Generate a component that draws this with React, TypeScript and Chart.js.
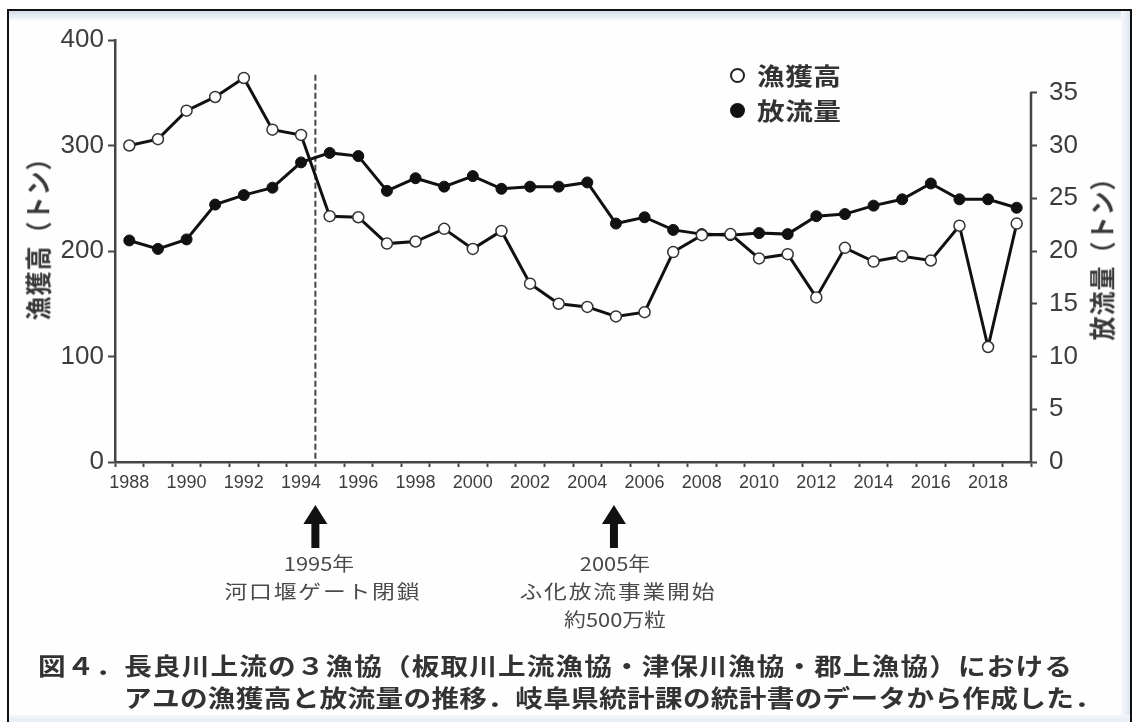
import React, { useEffect, useRef } from 'react';
import { Chart, registerables } from 'chart.js';

Chart.register(...registerables);

const years = ['1988', '1989', '1990', '1991', '1992', '1993', '1994', '1995', '1996', '1997', '1998', '1999', '2000', '2001', '2002', '2003', '2004', '2005', '2006', '2007', '2008', '2009', '2010', '2011', '2012', '2013', '2014', '2015', '2016', '2017', '2018', '2019'];

// 漁獲高 (トン) — left axis
const catchTons = [300, 306, 333, 346, 364, 315, 310, 233, 232, 207, 209, 221, 202, 219, 169, 150, 147, 138, 142, 199, 215, 216, 193, 197, 156, 203, 190, 195, 191, 224, 109, 226];

// 放流量 (トン) — right axis
const releaseTons = [21.0, 20.2, 21.1, 24.4, 25.3, 26.0, 28.4, 29.3, 29.0, 25.7, 26.9, 26.1, 27.1, 25.9, 26.1, 26.1, 26.5, 22.6, 23.2, 22.0, 21.6, 21.5, 21.7, 21.6, 23.3, 23.5, 24.3, 24.9, 26.4, 24.9, 24.9, 24.1];

const leftTicks = [0, 100, 200, 300, 400];
const rightTicks = [0, 5, 10, 15, 20, 25, 30, 35];

const legendLabels = ['漁獲高', '放流量'];
const leftTitle = '漁獲高（トン）';
const rightTitle = '放流量（トン）';
const note1 = ['1995年', '河口堰ゲート閉鎖'];
const note2 = ['2005年', 'ふ化放流事業開始', '約500万粒'];
const captionLines = [
  '図４．長良川上流の３漁協（板取川上流漁協・津保川漁協・郡上漁協）における',
  'アユの漁獲高と放流量の推移．岐阜県統計課の統計書のデータから作成した．',
];

const dashTopValue = 367; // left-axis value where the 1995 dashed marker starts
const AXIS = '#454545';
const CJK = '"Noto Sans CJK JP", "Noto Sans", sans-serif';

const decorPlugin = {
  id: 'decor',
  beforeDatasetsDraw(chart: any) {
    const { ctx, scales } = chart;
    const x = scales.x;
    const y = scales.y;
    const xm = (x.getPixelForValue(6) + x.getPixelForValue(7)) / 2;
    ctx.save();
    ctx.strokeStyle = '#444';
    ctx.lineWidth = 2;
    ctx.setLineDash([6, 3]);
    ctx.beginPath();
    ctx.moveTo(xm, y.getPixelForValue(dashTopValue));
    ctx.lineTo(xm, y.getPixelForValue(0));
    ctx.stroke();
    ctx.restore();
  },
  afterDraw(chart: any) {
    const { ctx, scales, chartArea } = chart;
    const x = scales.x;
    const y1 = scales.y1;
    ctx.save();
    ctx.strokeStyle = AXIS;
    ctx.lineWidth = 2.5;
    ctx.beginPath();
    ctx.moveTo(chartArea.right, y1.getPixelForValue(35) - 1);
    ctx.lineTo(chartArea.right, y1.getPixelForValue(0));
    ctx.stroke();
    const arrowXs = [
      (x.getPixelForValue(6) + x.getPixelForValue(7)) / 2,
      x.getPixelForValue(17) - 2,
    ];
    ctx.fillStyle = '#111';
    arrowXs.forEach((ax) => {
      const tip = 505;
      const headH = 19;
      const headW = 12;
      const shaftW = 4;
      const bottom = 548;
      ctx.beginPath();
      ctx.moveTo(ax, tip);
      ctx.lineTo(ax + headW, tip + headH);
      ctx.lineTo(ax + shaftW, tip + headH);
      ctx.lineTo(ax + shaftW, bottom);
      ctx.lineTo(ax - shaftW, bottom);
      ctx.lineTo(ax - shaftW, tip + headH);
      ctx.lineTo(ax - headW, tip + headH);
      ctx.closePath();
      ctx.fill();
    });
    ctx.restore();
  },
};

function Text(props: { x: number; y: number; children: any; size: number; weight?: number; color?: string; ls?: number; sx?: number; align?: 'left' | 'center' }) {
  const { x, y, size, weight = 400, color = '#333', ls = 0, sx = 1, align = 'left' } = props;
  return (
    <div
      style={{
        position: 'absolute',
        left: x,
        top: y,
        transform: align === 'center' ? `translate(-50%, -50%) scaleX(${sx})` : `translateY(-50%) scaleX(${sx})`,
        transformOrigin: align === 'center' ? 'center center' : 'left center',
        fontFamily: CJK,
        fontSize: size,
        fontWeight: weight,
        color,
        letterSpacing: ls,
        paddingLeft: align === 'center' ? ls : 0,
        lineHeight: 1,
        whiteSpace: 'nowrap',
      }}
    >
      {props.children}
    </div>
  );
}

export default function App() {
  const ref = useRef<HTMLCanvasElement | null>(null);

  useEffect(() => {
    if (!ref.current) return;
    Chart.defaults.font.family = '"Liberation Sans", Arial, sans-serif';
    const chart = new Chart(ref.current, {
      type: 'line',
      data: {
        labels: years,
        datasets: [
          {
            label: legendLabels[0],
            data: catchTons,
            yAxisID: 'y',
            borderColor: '#111',
            borderWidth: 3,
            pointRadius: 5.5,
            pointBackgroundColor: '#fff',
            pointBorderColor: '#333',
            pointBorderWidth: 1.5,
            tension: 0,
          },
          {
            label: legendLabels[1],
            data: releaseTons,
            yAxisID: 'y1',
            borderColor: '#111',
            borderWidth: 3,
            pointRadius: 5.5,
            pointBackgroundColor: '#111',
            pointBorderColor: '#111',
            pointBorderWidth: 1,
            tension: 0,
          },
        ],
      },
      options: {
        animation: false,
        responsive: false,
        layout: { padding: { top: 40, left: 0, right: 0, bottom: 0 } },
        plugins: { legend: { display: false }, tooltip: { enabled: false } },
        scales: {
          x: {
            type: 'category',
            offset: true,
            grid: { offset: true, drawOnChartArea: false, drawTicks: true, tickLength: 5, tickWidth: 2, tickColor: AXIS },
            border: { display: true, color: AXIS, width: 2.5 },
            ticks: {
              autoSkip: false,
              maxRotation: 0,
              minRotation: 0,
              padding: 5,
              color: '#3d3d3d',
              font: { size: 18 },
              callback: (_v: any, i: number) => (Number(years[i]) % 2 === 0 ? years[i] : ''),
            },
            afterFit: (s: any) => { s.height = 260; },
          },
          y: {
            position: 'left',
            min: 0,
            max: 400,
            afterBuildTicks: (s: any) => { s.ticks = leftTicks.map((v) => ({ value: v })); },
            grid: { drawOnChartArea: false, tickLength: 7, tickWidth: 2, tickColor: AXIS },
            border: { display: true, color: AXIS, width: 2.5 },
            ticks: { padding: 4, color: '#3d3d3d', font: { size: 26 } },
            afterFit: (s: any) => { s.width = 115; },
          },
          y1: {
            position: 'right',
            min: 0,
            max: 40,
            afterBuildTicks: (s: any) => { s.ticks = rightTicks.map((v) => ({ value: v })); },
            grid: { drawOnChartArea: false, tickLength: 6, tickWidth: 2, tickColor: AXIS },
            border: { display: false },
            ticks: { padding: 12, color: '#3d3d3d', font: { size: 26 } },
            afterFit: (s: any) => { s.width = 101; },
          },
        },
      },
      plugins: [decorPlugin],
    } as any);
    return () => chart.destroy();
  }, []);

  return (
    <div style={{ position: 'absolute', left: 0, top: 0, width: 1132, height: 722, overflow: 'hidden', background: '#fff' }}>
      <div
        style={{
          position: 'absolute',
          left: 7,
          top: 9,
          width: 1125,
          height: 740,
          boxSizing: 'border-box',
          border: '2px solid #111',
          background: '#fefefe',
        }}
      >
        <div style={{ position: 'absolute', left: 0, right: 0, top: 0, height: 9, background: 'linear-gradient(#d3dde8, #f6f8fb)' }} />
        <div style={{ position: 'absolute', right: 0, top: 0, bottom: 0, width: 9, background: 'linear-gradient(to right, #f7f9fc, #dde6ef)' }} />
        <div style={{ position: 'absolute', left: 0, right: 0, top: 704, height: 10, background: 'linear-gradient(#f3f6fa, #e2eaf2)' }} />
      </div>
      <canvas ref={ref} width={1132} height={722} style={{ position: 'absolute', left: 0, top: 0 }} />

      {/* legend */}
      <div style={{ position: 'absolute', left: 730, top: 68, width: 11, height: 11, border: '2px solid #222', borderRadius: '50%', background: '#fff' }} />
      <Text x={757} y={75} size={24} weight={700} color="#333" ls={0.5} sx={1.15}>{legendLabels[0]}</Text>
      <div style={{ position: 'absolute', left: 730, top: 103, width: 15, height: 15, borderRadius: '50%', background: '#111' }} />
      <Text x={757} y={110} size={24} weight={700} color="#333" ls={0.5} sx={1.15}>{legendLabels[1]}</Text>

      {/* axis titles */}
      <div style={{ position: 'absolute', left: 37, top: 233, transform: 'translate(-50%, -50%) rotate(-90deg) scaleY(1.1)', fontFamily: CJK, fontSize: 24, fontWeight: 700, color: '#383838', whiteSpace: 'nowrap', lineHeight: 1, letterSpacing: 1 }}>{leftTitle}</div>
      <div style={{ position: 'absolute', left: 1101, top: 253, transform: 'translate(-50%, -50%) rotate(-90deg) scaleY(1.1)', fontFamily: CJK, fontSize: 24, fontWeight: 700, color: '#383838', whiteSpace: 'nowrap', lineHeight: 1, letterSpacing: 1 }}>{rightTitle}</div>

      {/* annotations */}
      <Text x={319} y={562} size={19} color="#4a4a4a" sx={1.15} align="center">{note1[0]}</Text>
      <Text x={322} y={590} size={19} color="#4a4a4a" ls={1.5} sx={1.2} align="center">{note1[1]}</Text>
      <Text x={615} y={562} size={19} color="#4a4a4a" sx={1.15} align="center">{note2[0]}</Text>
      <Text x={617} y={590} size={19} color="#4a4a4a" ls={1.5} sx={1.2} align="center">{note2[1]}</Text>
      <Text x={615} y={618} size={19} color="#4a4a4a" sx={1.15} align="center">{note2[2]}</Text>

      {/* caption */}
      <Text x={38} y={665} size={24} weight={700} color="#333" ls={1} sx={1.15}>{captionLines[0]}</Text>
      <Text x={124} y={697} size={24} weight={700} color="#333" ls={0.3} sx={1.15}>{captionLines[1]}</Text>
    </div>
  );
}
